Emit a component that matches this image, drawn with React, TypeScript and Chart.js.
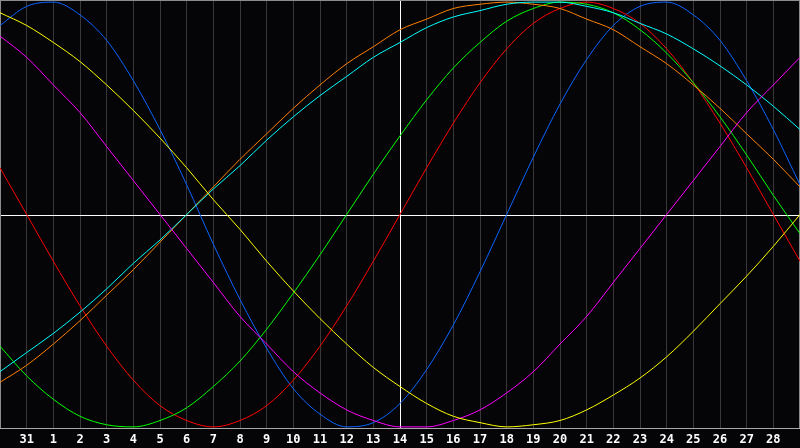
import React, { useEffect, useRef } from 'react';
import { Chart, registerables } from 'chart.js';

Chart.register(...registerables);

// days shown: 30 Jan .. 1 Mar (first/last not labelled)
const dayLabels = [
  '30', '31', '1', '2', '3', '4', '5', '6', '7', '8', '9', '10', '11', '12', '13', '14',
  '15', '16', '17', '18', '19', '20', '21', '22', '23', '24', '25', '26', '27', '28', '1'
];
const todayIndex = 15;

// values in percent
const physical = [
  89, 98, 100, 94, 82, 63, 40, 14, -14, -40, -63, -82, -94, -100, -98, -89,
  -73, -52, -27, 0, 27, 52, 73, 89, 98, 100, 94, 82, 63, 40, 14
];
const emotional = [
  22, 0, -22, -43, -62, -78, -90, -97, -100, -97, -90, -78, -62, -43, -22, 0,
  22, 43, 62, 78, 90, 97, 100, 97, 90, 78, 62, 43, 22, 0, -22
];
const intellectual = [
  -62, -76, -87, -95, -99, -100, -97, -91, -81, -69, -54, -37, -19, 0, 19, 37,
  54, 69, 81, 91, 97, 100, 99, 95, 87, 76, 62, 46, 28, 9, -9
];
const intuitive = [
  84, 74, 61, 48, 32, 16, 0, -16, -32, -48, -61, -74, -84, -92, -97, -100,
  -100, -97, -92, -84, -74, -61, -48, -32, -16, 0, 16, 32, 48, 61, 74
];
const aesthetic = [
  95, 89, 81, 72, 61, 49, 36, 22, 7, -7, -22, -36, -49, -61, -72, -81,
  -89, -95, -98, -100, -99, -97, -92, -85, -77, -67, -55, -42, -29, -15, 0
];
const awareness = [
  -79, -71, -61, -50, -38, -26, -13, 0, 13, 26, 38, 50, 61, 71, 79, 87,
  92, 97, 99, 100, 99, 97, 92, 87, 79, 71, 61, 50, 38, 26, 13
];
const spiritual = [
  -74, -65, -56, -46, -35, -23, -12, 0, 12, 23, 35, 46, 56, 65, 74, 81,
  88, 93, 96, 99, 100, 100, 98, 95, 90, 85, 78, 70, 61, 51, 40
];

const frame = {
  id: 'frame',
  beforeDraw(chart: Chart) {
    const { ctx, width, height } = chart;
    ctx.save();
    ctx.fillStyle = '#050508';
    ctx.fillRect(0, 0, width, height);
    ctx.restore();
  },
  beforeDatasetsDraw(chart: Chart) {
    const { ctx, chartArea } = chart;
    const x = Math.round(chart.scales.x.getPixelForValue(todayIndex)) + 0.5;
    const y = Math.round(chart.scales.y.getPixelForValue(0)) + 0.5;
    ctx.save();
    ctx.strokeStyle = '#ffffff';
    ctx.lineWidth = 1;
    ctx.beginPath();
    ctx.moveTo(chartArea.left, y);
    ctx.lineTo(chartArea.right, y);
    ctx.moveTo(x, chartArea.top);
    ctx.lineTo(x, chartArea.bottom);
    ctx.stroke();
    ctx.strokeStyle = '#8c8c8c';
    ctx.strokeRect(chartArea.left + 0.5, chartArea.top + 0.5, chartArea.right - chartArea.left - 1, chartArea.bottom - chartArea.top - 1);
    ctx.strokeStyle = '#a8a8a8';
    ctx.beginPath();
    ctx.moveTo(chartArea.left, chartArea.bottom - 0.5);
    ctx.lineTo(chartArea.right, chartArea.bottom - 0.5);
    ctx.stroke();
    ctx.restore();
  }
};

const line = (data: number[], color: string) => ({
  data,
  borderColor: color,
  borderWidth: 1,
  pointRadius: 0,
  cubicInterpolationMode: 'monotone' as const,
  fill: false
});

export default function App() {
  const canvasRef = useRef<HTMLCanvasElement>(null);

  useEffect(() => {
    document.body.style.margin = '0';
    const ctx = canvasRef.current?.getContext('2d');
    if (!ctx) return;

    const chart = new Chart(ctx, {
      type: 'line',
      data: {
        labels: dayLabels,
        datasets: [
          line(aesthetic, '#ffff00'),
          line(intuitive, '#ff00ff'),
          line(spiritual, '#00ffff'),
          line(awareness, '#ff8000'),
          line(intellectual, '#00ff00'),
          line(emotional, '#ff0000'),
          line(physical, '#0a64ff')
        ]
      },
      options: {
        responsive: false,
        animation: false,
        layout: { padding: 0, autoPadding: false },
        plugins: {
          legend: { display: false },
          tooltip: { enabled: false }
        },
        scales: {
          x: {
            offset: false,
            border: { display: false },
            grid: { color: '#383838', lineWidth: 1, drawTicks: false },
            afterFit: (scale: any) => {
              scale.height = 19;
              scale.paddingLeft = 0;
              scale.paddingRight = 0;
            },
            ticks: {
              autoSkip: false,
              maxRotation: 0,
              padding: 4,
              color: '#ffffff',
              font: { family: 'DejaVu Sans Mono', size: 12, weight: 'bold' },
              callback: (_v: any, i: number) => (i === 0 || i === dayLabels.length - 1 ? '' : dayLabels[i])
            }
          },
          y: {
            display: false,
            min: -101,
            max: 101
          }
        }
      },
      plugins: [frame]
    });

    return () => {
      chart.destroy();
    };
  }, []);

  return (
    <div style={{ width: 800, height: 448 }}>
      <canvas ref={canvasRef} width={800} height={448} />
    </div>
  );
}
